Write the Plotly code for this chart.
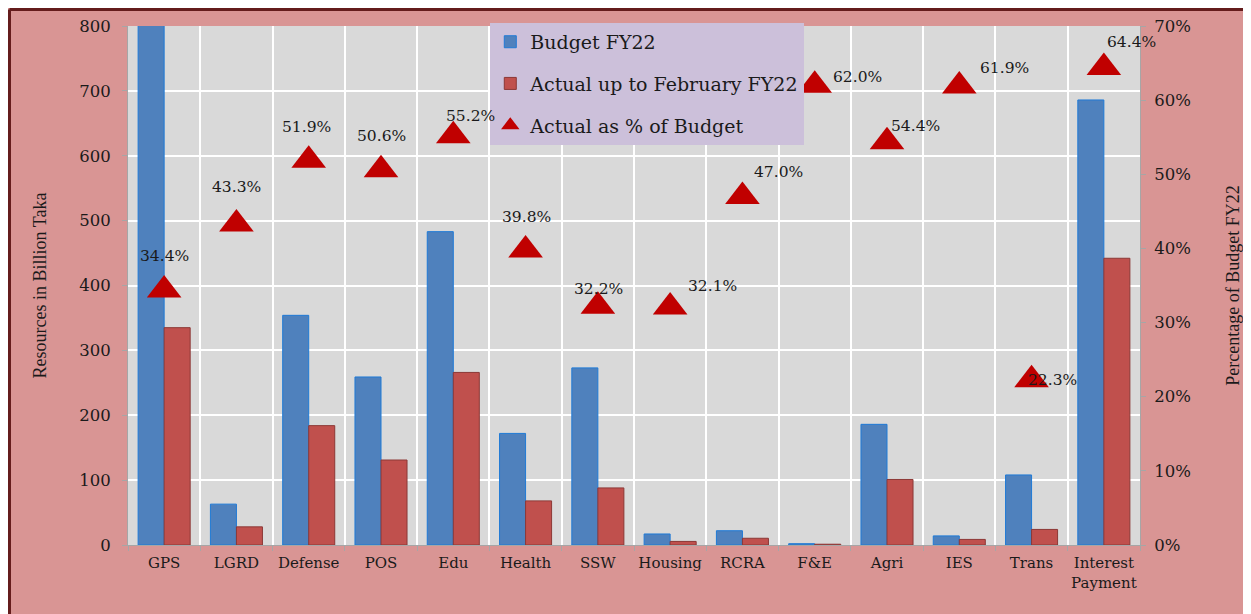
import plotly.graph_objects as go

categories = ["GPS", "LGRD", "Defense", "POS", "Edu", "Health", "SSW", "Housing",
              "RCRA", "F&E", "Agri", "IES", "Trans", "Interest<br>Payment"]
budget_fy22 = [974, 63, 354, 259, 483, 172, 273, 17, 22, 2, 186, 14, 108, 686]
actual_feb_fy22 = [335, 28, 184, 131, 266, 68, 88, 5.5, 10.4, 1.2, 101, 8.6, 24, 442]
actual_pct = [0.344, 0.433, 0.519, 0.506, 0.552, 0.398, 0.322, 0.321,
              0.470, 0.620, 0.544, 0.619, 0.223, 0.644]

# label offsets (pixels) relative to each triangle - styling only
label_dx = [0, 0, -2, 0, 17, 1, 1, 42, 36, 43, 28, 45, 21, 28]
label_dy = [34, 37, 33, 34, 20, 33, 17, 21, 25, 8, 16, 18, 0, 26]

SERIF = "Liberation Serif, Times New Roman, serif"
WIDE = "DejaVu Serif, serif"
PINK = "#d99594"
TXT = "#1a1a1a"
AX = "#a6a6a6"

fig = go.Figure()
fig.add_trace(go.Bar(
    x=categories, y=budget_fy22, name="Budget FY22",
    marker=dict(color="#4f81bd", line=dict(color="#1f7ad6", width=1)),
    legendgroup="a"))
fig.add_trace(go.Bar(
    x=categories, y=actual_feb_fy22, name="Actual up to February FY22",
    marker=dict(color="#c0504d", line=dict(color="#8c3836", width=1)),
    legendgroup="b"))
fig.add_trace(go.Scatter(
    x=categories, y=actual_pct, name="Actual as % of Budget", yaxis="y2",
    mode="markers",
    marker=dict(symbol="triangle-up", size=30, color="#c00000"),
    cliponaxis=False, legendgroup="c"))

annotations = []
for c, p, dx, dy in zip(categories, actual_pct, label_dx, label_dy):
    annotations.append(dict(
        x=c, y=p, xref="x", yref="y2", text=f"{p * 100:.1f}%", showarrow=False,
        xshift=dx, yshift=dy, xanchor="center", yanchor="middle",
        font=dict(family=WIDE, size=15.5, color=TXT)))

fig.update_layout(
    width=1251, height=614,
    margin=dict(l=120, r=119, t=18, b=77),
    paper_bgcolor=PINK, plot_bgcolor="#d9d9d9",
    font=dict(family=WIDE, size=16, color=TXT),
    barmode="group", bargap=0.28, bargroupgap=0,
    showlegend=True,
    legend=dict(x=0.358, y=1.006, xanchor="left", yanchor="top",
                bgcolor="#ccc0da", font=dict(family=WIDE, size=19, color=TXT),
                tracegroupgap=14, itemwidth=30, traceorder="grouped"),
    xaxis=dict(range=[-0.5, 13.5], tickson="boundaries", showgrid=True, gridcolor="white",
               gridwidth=1.5, showline=True, linecolor=AX, ticks="outside", ticklen=5,
               tickcolor=AX, tickangle=0, automargin=False, ticklabelstandoff=4,
               tickfont=dict(family=WIDE, size=15, color=TXT)),
    yaxis=dict(range=[0, 800], dtick=100, showgrid=True, gridcolor="white", gridwidth=1.5,
               showline=True, linecolor=AX, ticks="outside", ticklen=5, automargin=False,
               tickcolor=AX, zeroline=False, ticklabelstandoff=8,
               title=dict(text="Resources in Billion Taka", font=dict(family=SERIF, size=18),
                          standoff=27),
               tickfont=dict(family=WIDE, size=16.5, color=TXT)),
    yaxis2=dict(range=[0, 0.7], dtick=0.1, tickformat=".0%", overlaying="y", side="right",
                showgrid=False, showline=True, linecolor=AX, ticks="outside", automargin=False,
                ticklen=5, tickcolor=AX, zeroline=False, ticklabelstandoff=5,
                title=dict(text="Percentage of Budget FY22", font=dict(family=SERIF, size=18),
                           standoff=36),
                tickfont=dict(family=WIDE, size=16.5, color=TXT)),
    annotations=annotations,
    shapes=[
        dict(type="line", xref="paper", yref="paper", x0=-0.1171, x1=-0.1171, y0=-0.3, y1=1.0318,
             line=dict(color="#641c1c", width=3), layer="above"),
        dict(type="line", xref="paper", yref="paper", x0=-0.1171, x1=1.2, y0=1.0318, y1=1.0318,
             line=dict(color="#641c1c", width=3), layer="above"),
    ],
)

fig.write_html("out.html")
